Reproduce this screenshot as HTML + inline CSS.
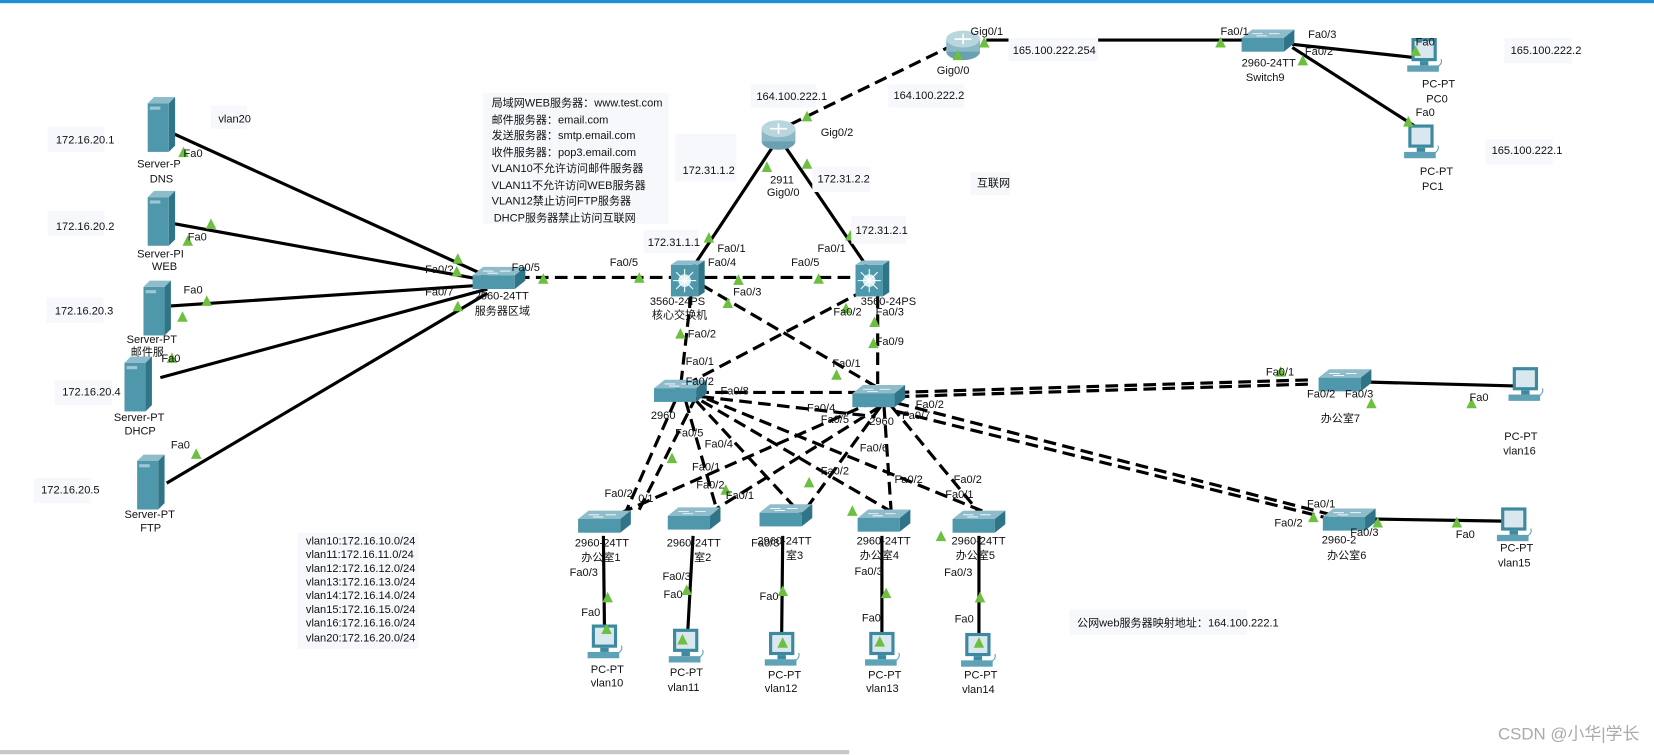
<!DOCTYPE html>
<html><head><meta charset="utf-8"><style>
html,body{margin:0;padding:0;background:#fff;}
svg{display:block;font-family:"Liberation Sans","Noto Sans CJK SC",sans-serif;}
text{font-size:10.5px;fill:#111;}
.l{stroke:#000;stroke-width:3;fill:none;}
.d{stroke:#000;stroke-width:3;fill:none;stroke-dasharray:12 6;}
.bg{fill:#f7f8fc;}
</style></head><body>
<svg width="1654" height="755" viewBox="0 0 1654 755">
<defs>
<g id="srv"><path d="M0 6 L6 0 L26 0 L20 6Z" fill="#8fbccb"/><path d="M20 6 L26 0 L26 46 L20 52Z" fill="#2f7487"/><rect x="0" y="6" width="20" height="46" fill="#4f97ab"/><rect x="2" y="9" width="10" height="3" fill="#9fc6d3"/></g>
<g id="sw"><path d="M0 8 L10 0 L50 0 L40 8Z" fill="#8fbccb"/><rect x="0" y="8" width="40" height="13" fill="#4f97ab"/><path d="M40 8 L50 0 L50 13 L40 21Z" fill="#2f7487"/><path d="M10 4h10M26 4h10M14 6h10" stroke="#fff" stroke-width="0.8"/></g>
<g id="msw"><rect x="0" y="4" width="26" height="30" fill="#4f97ab"/><path d="M0 4 L6 0 L32 0 L26 4Z" fill="#8fbccb"/><path d="M26 4 L32 0 L32 30 L26 34Z" fill="#2f7487"/><circle cx="13" cy="19" r="6" fill="#d8eef5"/><path d="M13 8v22M2 19h22M5 11l16 16M21 11L5 27" stroke="#fff" stroke-width="1"/></g>
<g id="rt"><ellipse cx="16" cy="22" rx="16" ry="8" fill="#6aa0b0"/><rect x="0" y="10" width="32" height="12" fill="#8cb9c7"/><ellipse cx="16" cy="10" rx="16" ry="8" fill="#b9d6df"/><path d="M8 10h16M16 5v10" stroke="#fff" stroke-width="1.5"/></g>
<g id="pc"><rect x="4" y="0" width="24" height="22" fill="#3d8aa0"/><rect x="7" y="3" width="18" height="16" fill="#d8e8ee"/><rect x="12" y="22" width="8" height="4" fill="#3d8aa0"/><rect x="0" y="26" width="30" height="6" fill="#5fa2b5"/><path d="M28 28 q6 -4 4 -8" stroke="#5fa2b5" fill="none"/></g>
<path id="tri" d="M-5 5 L0 -5 L5 5Z" fill="#6cbf3f"/>
</defs>
<g transform="scale(1.0549)">
<rect x="0" y="0" width="1568" height="3" fill="#1d8fd6"/>
<rect x="0" y="711" width="805" height="4" fill="#c8c8c8"/>

<path class="l" d="M165 127 L462 262 M165 212 L462 266 M162 290 L462 270 M152 358 L462 274 M158 458 L462 278"/>
<path class="d" d="M490 263 L652 263 M668 263 L828 263"/>
<path class="d" d="M905 42 L745 120"/>
<path class="l" d="M935 38 L1190 38 M1225 42 L1345 55 M1225 45 L1345 122"/>
<path class="l" d="M732 140 L657 253 M745 140 L822 253"/>
<path class="d" d="M655 280 L645 368 M665 270 L833 368 M820 275 L640 370 M832 280 L832 368"/>
<path class="d" d="M640 380 L592 488 M650 380 L680 485 M660 380 L760 488 M665 380 L850 488 M670 378 L940 488 M660 372 L830 372 M665 376 L830 395 M830 380 L580 490 M835 385 L670 488 M835 385 L760 488 M838 385 L845 488 M845 385 L930 488"/>
<path class="d" d="M660 376 L605 485"/>
<path class="d" d="M850 372 L1245 360 M850 376 L1245 364 M850 382 L1270 490 M850 390 L1270 494"/>
<path class="l" d="M1290 362 L1440 366 M1300 492 L1425 494"/>
<path class="l" d="M572 508 L573 595 M657 508 L652 598 M742 508 L741 600 M836 508 L836 600 M928 508 L928 600"/>

<use href="#srv" x="140" y="92"/><use href="#srv" x="140" y="181"/><use href="#srv" x="136" y="266"/><use href="#srv" x="118" y="338"/><use href="#srv" x="130" y="431"/>
<use href="#sw" x="448" y="253"/>
<use href="#msw" x="636" y="247"/><use href="#msw" x="811" y="247"/>
<use href="#rt" x="722" y="112"/><use href="#rt" x="897" y="27"/>
<use href="#sw" x="1177" y="28"/>
<use href="#pc" x="1334" y="36"/><use href="#pc" x="1331" y="118"/>
<use href="#sw" x="620" y="360"/><use href="#sw" x="808" y="365"/>
<use href="#sw" x="1250" y="350"/><use href="#sw" x="1254" y="482"/>
<use href="#sw" x="548" y="484"/><use href="#sw" x="633" y="481"/><use href="#sw" x="720" y="478"/><use href="#sw" x="813" y="483"/><use href="#sw" x="903" y="484"/>
<use href="#pc" x="557" y="592"/><use href="#pc" x="634" y="596"/><use href="#pc" x="725" y="599"/><use href="#pc" x="820" y="599"/><use href="#pc" x="911" y="600"/>
<use href="#pc" x="1430" y="348"/><use href="#pc" x="1419" y="481"/>

<g>
<use href="#tri" x="174" y="144"/><use href="#tri" x="178" y="228"/><use href="#tri" x="173" y="300"/><use href="#tri" x="163" y="339"/><use href="#tri" x="186" y="430"/>
<use href="#tri" x="434" y="245"/><use href="#tri" x="433" y="257"/><use href="#tri" x="434" y="290"/><use href="#tri" x="515" y="264"/><use href="#tri" x="606" y="263"/><use href="#tri" x="700" y="265"/><use href="#tri" x="776" y="264"/>
<use href="#tri" x="200" y="212"/><use href="#tri" x="196" y="285"/>
<use href="#tri" x="765" y="110"/><use href="#tri" x="933" y="40"/><use href="#tri" x="908" y="52"/><use href="#tri" x="1157" y="40"/><use href="#tri" x="1235" y="57"/><use href="#tri" x="1342" y="48"/><use href="#tri" x="1335" y="115"/>
<use href="#tri" x="727" y="158"/><use href="#tri" x="765" y="155"/><use href="#tri" x="672" y="225"/><use href="#tri" x="806" y="223"/>
<use href="#tri" x="690" y="287"/><use href="#tri" x="802" y="292"/><use href="#tri" x="645" y="316"/><use href="#tri" x="829" y="305"/><use href="#tri" x="828" y="325"/><use href="#tri" x="793" y="355"/>
<use href="#tri" x="1214" y="352"/><use href="#tri" x="1300" y="382"/><use href="#tri" x="1395" y="382"/><use href="#tri" x="1245" y="490"/><use href="#tri" x="1306" y="495"/><use href="#tri" x="1381" y="495"/>
<use href="#tri" x="576" y="566"/><use href="#tri" x="651" y="559"/><use href="#tri" x="742" y="560"/><use href="#tri" x="840" y="562"/><use href="#tri" x="929" y="566"/>
<use href="#tri" x="575" y="596"/><use href="#tri" x="647" y="606"/><use href="#tri" x="742" y="609"/><use href="#tri" x="834" y="608"/><use href="#tri" x="928" y="609"/>
<use href="#tri" x="637" y="434"/><use href="#tri" x="688" y="464"/><use href="#tri" x="767" y="457"/><use href="#tri" x="808" y="484"/><use href="#tri" x="892" y="508"/>
</g>

<rect class="bg" x="45" y="120" width="54" height="24"/><text x="53" y="136">172.16.20.1</text>
<rect class="bg" x="200" y="100" width="34" height="22"/><text x="207" y="116">vlan20</text>
<rect class="bg" x="45" y="200" width="54" height="24"/><text x="53" y="218">172.16.20.2</text>
<rect class="bg" x="44" y="282" width="54" height="24"/><text x="52" y="298">172.16.20.3</text>
<rect class="bg" x="52" y="360" width="54" height="24"/><text x="59" y="375">172.16.20.4</text>
<rect class="bg" x="32" y="453" width="54" height="24"/><text x="39" y="468">172.16.20.5</text>
<text x="130" y="159">Server-P</text><text x="142" y="173">DNS</text><text x="174" y="149">Fa0</text>
<text x="130" y="244">Server-PI</text><text x="144" y="256">WEB</text><text x="178" y="228">Fa0</text>
<text x="174" y="278">Fa0</text><text x="120" y="325">Server-PT</text><text x="124" y="337">邮件服</text>
<text x="153" y="343">Fa0</text><text x="108" y="399">Server-PT</text><text x="118" y="412">DHCP</text>
<text x="162" y="425">Fa0</text><text x="118" y="491">Server-PT</text><text x="133" y="504">FTP</text>
<text x="403" y="259">Fa0/?</text><text x="403" y="280">Fa0/7</text><text x="485" y="257">Fa0/5</text>
<text x="450" y="284">2960-24TT</text><text x="450" y="298">服务器区域</text>
<rect class="bg" x="458" y="88" width="176" height="124"/>
<text x="466" y="101">局域网WEB服务器：www.test.com</text>
<text x="466" y="117">邮件服务器：email.com</text>
<text x="466" y="132">发送服务器：smtp.email.com</text>
<text x="466" y="148">收件服务器：pop3.email.com</text>
<text x="466" y="163">VLAN10不允许访问邮件服务器</text>
<text x="466" y="179">VLAN11不允许访问WEB服务器</text>
<text x="466" y="194">VLAN12禁止访问FTP服务器</text>
<text x="468" y="210">DHCP服务器禁止访问互联网</text>
<rect class="bg" x="282" y="505" width="115" height="110"/>
<text x="290" y="516">vlan10:172.16.10.0/24</text><text x="290" y="529">vlan11:172.16.11.0/24</text><text x="290" y="542">vlan12:172.16.12.0/24</text><text x="290" y="555">vlan13:172.16.13.0/24</text><text x="290" y="568">vlan14:172.16.14.0/24</text><text x="290" y="581">vlan15:172.16.15.0/24</text><text x="290" y="594">vlan16:172.16.16.0/24</text><text x="290" y="608">vlan20:172.16.20.0/24</text>

<text x="578" y="252">Fa0/5</text>
<rect class="bg" x="610" y="218" width="52" height="22"/><text x="614" y="233">172.31.1.1</text>
<text x="680" y="239">Fa0/1</text><text x="671" y="252">Fa0/4</text><text x="750" y="252">Fa0/5</text><text x="775" y="239">Fa0/1</text>
<rect class="bg" x="807" y="205" width="52" height="26"/><text x="811" y="222">172.31.2.1</text>
<text x="695" y="280">Fa0/3</text><text x="616" y="289">3560-24PS</text><text x="618" y="302">核心交换机</text>
<text x="816" y="289">3560-24PS</text><text x="790" y="299">Fa0/2</text><text x="830" y="299">Fa0/3</text>
<text x="652" y="320">Fa0/2</text><text x="830" y="327">Fa0/9</text><text x="650" y="346">Fa0/1</text><text x="789" y="348">Fa0/1</text>
<text x="650" y="365">Fa0/2</text><text x="683" y="374">Fa0/8</text><text x="617" y="397">2960</text><text x="668" y="424">Fa0/4</text><text x="640" y="414">Fa0/5</text>
<text x="765" y="390">Fa0/4</text><text x="778" y="401">Fa0/5</text><text x="855" y="397">Fa0/7</text><text x="868" y="387">Fa0/2</text><text x="824" y="403">2960</text><text x="815" y="428">Fa0/6</text>
<text x="656" y="446">Fa0/1</text><text x="660" y="463">Fa0/2</text><text x="688" y="473">Fa0/1</text><text x="778" y="450">Fa0/2</text><text x="848" y="458">Fa0/2</text><text x="904" y="458">Fa0/2</text><text x="896" y="472">Fa0/1</text>
<text x="573" y="471">Fa0/2</text><text x="605" y="476">0/1</text>
<rect class="bg" x="640" y="127" width="58" height="45"/><text x="647" y="165">172.31.1.2</text>
<text x="730" y="174">2911</text>
<text x="727" y="186">Gig0/0</text>
<rect class="bg" x="770" y="158" width="55" height="24"/><text x="775" y="173">172.31.2.2</text>
<text x="778" y="129">Gig0/2</text>
<rect class="bg" x="712" y="80" width="62" height="22"/><text x="717" y="95">164.100.222.1</text>
<rect class="bg" x="842" y="80" width="72" height="22"/><text x="847" y="94">164.100.222.2</text>
<text x="920" y="33">Gig0/1</text><text x="888" y="70">Gig0/0</text>
<rect class="bg" x="956" y="36" width="85" height="22"/><text x="960" y="51">165.100.222.254</text>
<rect class="bg" x="920" y="163" width="38" height="22"/><text x="926" y="177">互联网</text>
<text x="1157" y="33">Fa0/1</text><text x="1240" y="36">Fa0/3</text><text x="1237" y="52">Fa0/2</text>
<text x="1177" y="63">2960-24TT</text><text x="1181" y="77">Switch9</text>
<text x="1342" y="43">Fa0</text><text x="1342" y="110">Fa0</text>
<text x="1348" y="83">PC-PT</text><text x="1352" y="97">PC0</text>
<text x="1346" y="166">PC-PT</text><text x="1348" y="180">PC1</text>
<rect class="bg" x="1426" y="36" width="64" height="24"/><text x="1432" y="51">165.100.222.2</text>
<rect class="bg" x="1408" y="132" width="64" height="24"/><text x="1414" y="146">165.100.222.1</text>
<text x="1200" y="356">Fa0/1</text><text x="1239" y="377">Fa0/2</text><text x="1275" y="377">Fa0/3</text><text x="1252" y="400">办公室7</text>
<text x="1393" y="380">Fa0</text><text x="1426" y="417">PC-PT</text><text x="1425" y="431">vlan16</text>
<text x="1239" y="481">Fa0/1</text><text x="1208" y="499">Fa0/2</text><text x="1280" y="508">Fa0/3</text><text x="1253" y="515">2960-2</text><text x="1258" y="530">办公室6</text>
<text x="1380" y="510">Fa0</text><text x="1422" y="523">PC-PT</text><text x="1420" y="537">vlan15</text>
<rect class="bg" x="1014" y="578" width="168" height="24"/><text x="1021" y="594">公网web服务器映射地址：164.100.222.1</text>
<text x="545" y="518">2960-24TT</text><text x="551" y="532">办公室1</text><text x="540" y="546">Fa0/3</text><text x="551" y="584">Fa0</text><text x="560" y="638">PC-PT</text><text x="560" y="651">vlan10</text>
<text x="632" y="518">2960-24TT</text><text x="658" y="532">室2</text><text x="628" y="550">Fa0/3</text><text x="629" y="567">Fa0</text><text x="635" y="641">PC-PT</text><text x="633" y="655">vlan11</text>
<text x="718" y="516">2960-24TT</text><text x="745" y="530">室3</text><text x="712" y="518">Fa0/3</text><text x="720" y="569">Fa0</text><text x="728" y="643">PC-PT</text><text x="725" y="656">vlan12</text>
<text x="812" y="516">2960-24TT</text><text x="815" y="530">办公室4</text><text x="810" y="545">Fa0/3</text><text x="817" y="589">Fa0</text><text x="823" y="643">PC-PT</text><text x="821" y="656">vlan13</text>
<text x="902" y="516">2960-24TT</text><text x="906" y="530">办公室5</text><text x="895" y="546">Fa0/3</text><text x="905" y="590">Fa0</text><text x="914" y="643">PC-PT</text><text x="912" y="657">vlan14</text>
<text x="1420" y="701" style="font-size:16px;fill:#aaa">CSDN @小华|学长</text>
</g>
</svg>
</body></html>
